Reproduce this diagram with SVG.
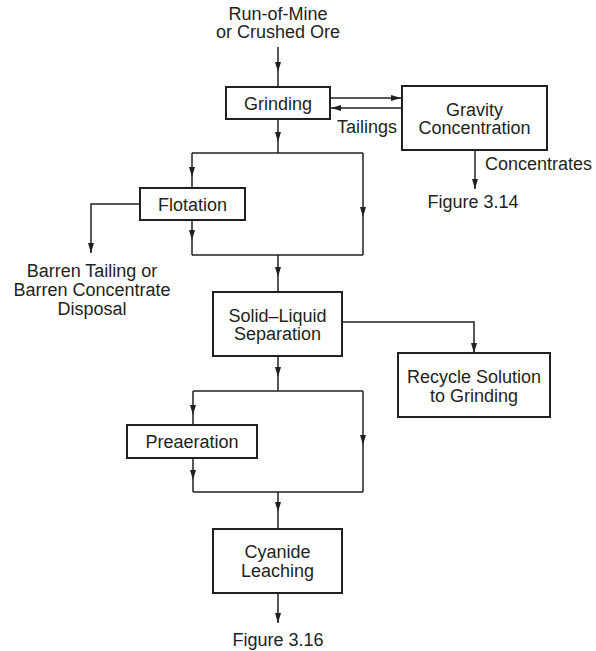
<svg xmlns="http://www.w3.org/2000/svg" width="596" height="651" viewBox="0 0 596 651">
  <defs>
    <style>
      .box { fill: #ffffff; stroke: #231f20; stroke-width: 2; }
      .wire { fill: none; stroke: #231f20; stroke-width: 1.5; }
      .lbl { font-family: "Liberation Sans", Arial, Helvetica, sans-serif; font-size: 18px; fill: #231f20; }
      .c { text-anchor: middle; }
      .e { text-anchor: end; }
      .arr { marker-end: url(#head); }
    </style>
    <marker id="head" markerUnits="userSpaceOnUse" markerWidth="11" markerHeight="7" refX="10" refY="3" orient="auto">
      <path d="M0,0 L10,3 L0,6 z" fill="#231f20"/>
    </marker>
  </defs>
  <rect width="596" height="651" fill="#ffffff"/>

  <!-- flow lines; arrowheads sit part-way along the runs -->
  <g id="connectors">
    <path class="wire arr" d="M278 47 V72"/>
    <path class="wire" d="M278 72 V87"/>

    <path class="wire arr" d="M278 119 V142"/>
    <path class="wire" d="M278 142 V153"/>

    <path class="wire arr" d="M330 98 H401"/>
    <path class="wire arr" d="M402 108 H331"/>
    <path class="wire arr" d="M475 150 V189"/>

    <path class="wire" d="M192 153 H363"/>
    <path class="wire arr" d="M192 153 V177"/>
    <path class="wire" d="M192 177 V188"/>
    <path class="wire arr" d="M363 153 V217"/>
    <path class="wire" d="M363 217 V255"/>
    <path class="wire arr" d="M192 220 V240"/>
    <path class="wire" d="M192 240 V255"/>
    <path class="wire" d="M192 255 H363"/>
    <path class="wire arr" d="M140 204 H91 V253"/>

    <path class="wire arr" d="M278 255 V277"/>
    <path class="wire" d="M278 277 V292"/>

    <path class="wire arr" d="M342 322 H474 V353"/>

    <path class="wire arr" d="M278 356 V377"/>
    <path class="wire" d="M278 377 V391"/>
    <path class="wire" d="M193 391 H363"/>
    <path class="wire arr" d="M193 391 V415"/>
    <path class="wire" d="M193 415 V425"/>
    <path class="wire arr" d="M363 391 V445"/>
    <path class="wire" d="M363 445 V492"/>
    <path class="wire arr" d="M193 458 V480"/>
    <path class="wire" d="M193 480 V492"/>
    <path class="wire" d="M193 492 H363"/>

    <path class="wire arr" d="M278 492 V512"/>
    <path class="wire" d="M278 512 V529"/>

    <path class="wire arr" d="M278 593 V623"/>
  </g>

  <g id="feed">
    <text class="lbl c" x="278" y="20">Run-of-Mine</text>
    <text class="lbl c" x="278" y="38">or Crushed Ore</text>
  </g>

  <g id="grinding">
    <rect class="box" x="226" y="87" width="104" height="32"/>
    <text class="lbl c" x="278" y="110">Grinding</text>
  </g>

  <g id="gravity">
    <rect class="box" x="402" y="86" width="145" height="64"/>
    <text class="lbl c" x="474.5" y="116">Gravity</text>
    <text class="lbl c" x="474.5" y="134">Concentration</text>
  </g>

  <g id="labels-gravity">
    <text class="lbl e" x="397" y="133">Tailings</text>
    <text class="lbl" x="485" y="170">Concentrates</text>
    <text class="lbl c" x="473" y="208">Figure 3.14</text>
  </g>

  <g id="flotation">
    <rect class="box" x="140" y="188" width="105" height="32"/>
    <text class="lbl c" x="192.5" y="211">Flotation</text>
  </g>

  <g id="disposal">
    <text class="lbl c" x="92" y="277">Barren Tailing or</text>
    <text class="lbl c" x="92" y="296">Barren Concentrate</text>
    <text class="lbl c" x="92" y="315">Disposal</text>
  </g>

  <g id="solid-liquid">
    <rect class="box" x="213" y="292" width="129" height="64"/>
    <text class="lbl c" x="277.5" y="322">Solid–Liquid</text>
    <text class="lbl c" x="277.5" y="340">Separation</text>
  </g>

  <g id="recycle">
    <rect class="box" x="398" y="353" width="152" height="64"/>
    <text class="lbl c" x="474" y="383">Recycle Solution</text>
    <text class="lbl c" x="474" y="402">to Grinding</text>
  </g>

  <g id="preaeration">
    <rect class="box" x="127" y="425" width="130" height="33"/>
    <text class="lbl c" x="192" y="448">Preaeration</text>
  </g>

  <g id="cyanide">
    <rect class="box" x="213" y="529" width="129" height="64"/>
    <text class="lbl c" x="277.5" y="558">Cyanide</text>
    <text class="lbl c" x="277.5" y="577">Leaching</text>
  </g>

  <g id="next">
    <text class="lbl c" x="278" y="646">Figure 3.16</text>
  </g>
</svg>
